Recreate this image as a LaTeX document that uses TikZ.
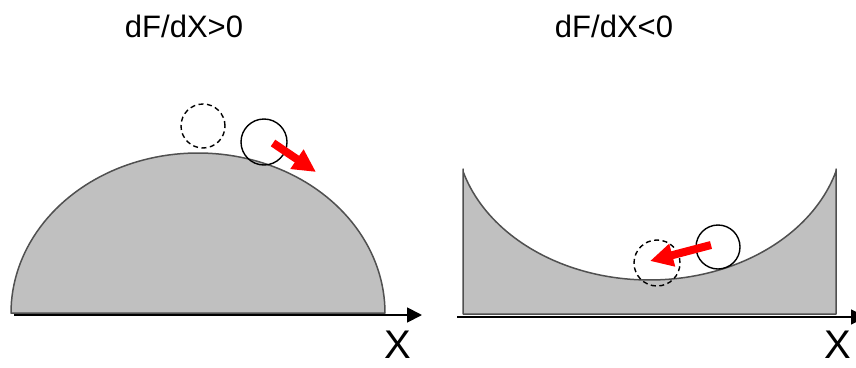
\documentclass[tikz,border=0pt]{standalone}
\usepackage{fontspec}
\setmainfont{Liberation Sans}
\usetikzlibrary{arrows.meta}
\definecolor{shade}{HTML}{C0C0C0}
\definecolor{rim}{HTML}{505050}
\tikzset{
  ground/.style={fill=shade, draw=rim, line width=1.5pt, line join=round},
  axisline/.style={draw=black, line width=1.8pt, -{Triangle[length=15pt,width=15pt]}},
  ball/.style={circle, draw=black, line width=1.4pt, minimum size=45pt, inner sep=0pt},
  ghost/.style={ball, dash pattern=on 5pt off 3.5pt},
  push/.style={draw=red, line width=8pt, -{Triangle[length=23pt,width=22pt]}},
  title/.style={font=\fontsize{31}{31}\selectfont, anchor=base, inner sep=0pt},
  xlabel/.style={font=\fontsize{40}{40}\selectfont, anchor=base, inner sep=0pt}
}
\begin{document}
\begin{tikzpicture}[x=1pt,y=-1pt]
\clip (0,0) rectangle (856,367);
\fill[white] (0,0) rectangle (856,367);
% titles
\node[title] (t1) at (184,37) {dF/dX>0};
\node[title] (t2) at (614,37) {dF/dX<0};
% left hill
\draw[ground] plot[domain=180:0, samples=90] ({198+187*cos(\x)},{313-160*sin(\x)}) -- cycle;
\coordinate (la) at (14,315);
\coordinate (lb) at (422,315);
\draw[axisline] (la) -- (lb);
\node[xlabel] (x1) at (397.5,358) {X};
% right well
\draw[ground] (463,314) -- (463,169) -- plot[domain=164:16, samples=90] ({649.5+194*cos(\x)},{130+150*sin(\x)}) -- (836,169) -- (836,314) -- cycle;
\coordinate (ra) at (457,317);
\coordinate (rb) at (866,317);
\draw[axisline] (ra) -- (rb);
\node[xlabel] (x2) at (838,358) {X};
% balls left
\node[ghost, minimum size=44pt] (g1) at (203,126) {};
\node[ball, minimum size=46pt] (b1) at (264,142) {};
\coordinate (p1) at (273,143);
\coordinate (q1) at (316,172);
\draw[push] (p1) -- (q1);
% balls right
\node[ghost, minimum size=46pt] (g2) at (657,263) {};
\node[ball, minimum size=44pt] (b2) at (718,247) {};
\coordinate (p2) at (711,245);
\coordinate (q2) at (650,261);
\draw[push] (p2) -- (q2);
\end{tikzpicture}
\end{document}
